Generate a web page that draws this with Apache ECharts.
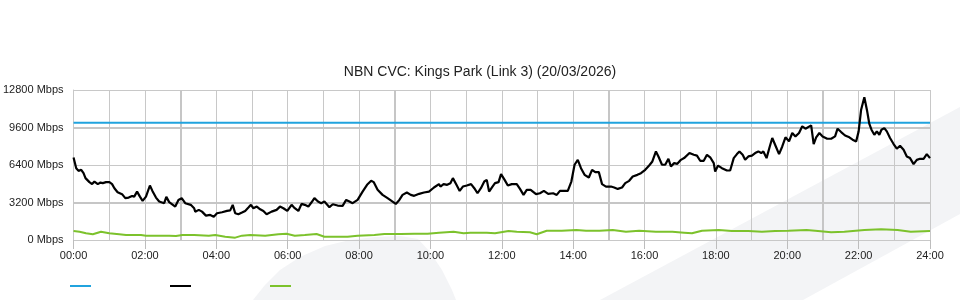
<!DOCTYPE html>
<html>
<head>
<meta charset="utf-8">
<script src="https://cdn.jsdelivr.net/npm/echarts@6/dist/echarts.min.js"></script>
<style>html,body{margin:0;padding:0;background:#fff}#c{width:960px;height:300px}</style>
</head>
<body>
<div id="c"></div>
<script>
const titleText = 'NBN CVC: Kings Park (Link 3) (20/03/2026)';
const yTicks = [0, 3200, 6400, 9600, 12800];
const xTickHours = [0, 2, 4, 6, 8, 10, 12, 14, 16, 18, 20, 22, 24];
const capacityT = [0, 24];
const capacityV = [10000, 10000];
const trafficT = [0.00,0.075,0.14,0.215,0.28,0.335,0.445,0.52,0.585,0.68,0.755,0.82,0.91,1.005,1.08,1.145,1.235,1.36,1.45,1.545,1.64,1.70,1.78,1.86,1.935,2.03,2.14,2.21,2.31,2.40,2.54,2.60,2.68,2.85,2.94,3.03,3.13,3.285,3.38,3.41,3.51,3.60,3.71,3.83,3.93,4.02,4.16,4.30,4.39,4.46,4.53,4.62,4.72,4.81,4.90,4.97,5.04,5.135,5.23,5.32,5.41,5.55,5.69,5.785,5.88,5.99,6.11,6.18,6.30,6.39,6.48,6.58,6.67,6.75,6.85,6.94,7.03,7.17,7.265,7.40,7.54,7.64,7.73,7.82,7.96,8.10,8.225,8.34,8.41,8.52,8.66,8.80,8.94,9.03,9.13,9.22,9.34,9.45,9.545,9.685,9.82,9.96,10.10,10.24,10.28,10.37,10.47,10.56,10.63,10.73,10.82,10.91,11.02,11.14,11.23,11.32,11.415,11.51,11.58,11.645,11.74,11.81,11.91,11.98,12.08,12.17,12.28,12.42,12.51,12.61,12.70,12.81,12.96,13.07,13.18,13.30,13.44,13.54,13.63,13.73,13.85,13.95,14.04,14.13,14.22,14.32,14.44,14.53,14.62,14.72,14.81,14.92,15.06,15.15,15.25,15.37,15.46,15.57,15.67,15.80,15.90,16.02,16.13,16.22,16.32,16.39,16.49,16.58,16.67,16.74,16.83,16.92,17.02,17.11,17.16,17.26,17.38,17.47,17.56,17.66,17.75,17.84,17.94,17.98,18.06,18.17,18.31,18.40,18.50,18.59,18.66,18.75,18.82,18.91,19.01,19.10,19.19,19.27,19.33,19.42,19.51,19.58,19.68,19.77,19.86,19.95,20.05,20.14,20.23,20.33,20.42,20.51,20.67,20.74,20.81,20.90,20.99,21.12,21.23,21.34,21.41,21.51,21.62,21.74,21.83,21.93,22.00,22.07,22.16,22.24,22.30,22.36,22.44,22.51,22.58,22.64,22.72,22.79,22.88,22.98,23.07,23.16,23.26,23.35,23.44,23.54,23.63,23.72,23.82,23.91,24.00];
const trafficV = [7040,6130,5900,5990,5700,5280,4940,4770,4990,4770,4900,4850,4940,4940,4770,4420,4080,3910,3570,3620,3760,3700,4130,3700,3340,3700,4650,4190,3620,3280,3140,3680,3230,2850,3420,3570,3140,3000,2710,2420,2570,2420,2080,2140,1990,2280,2370,2480,2530,3000,2280,2200,2340,2480,2770,3000,2710,2850,2620,2480,2200,2420,2570,2850,2710,2480,3000,2770,2480,3080,3000,2850,3220,3570,3280,3140,3280,2800,3050,2940,2910,3420,3280,3140,3420,4130,4710,5050,4940,4280,3850,3570,3280,3080,3420,3850,4050,3850,3770,3940,4050,4130,4480,4770,4560,4770,4710,4850,5280,4710,4190,4560,4650,4770,4420,3990,4420,4990,5130,4130,4560,4850,4940,5620,5130,4650,4770,4770,4360,3850,4280,4280,3910,3990,4190,3940,3990,3850,4190,4190,4190,4990,6420,6840,6130,5560,5330,5990,5790,5790,4770,4560,4560,4480,4360,4480,4850,5050,5420,5560,5700,5990,6360,6700,7560,7130,6420,6420,6930,6270,6560,6500,6840,6990,7130,7420,7270,7200,6760,6760,7270,7060,6560,5840,6350,6130,5930,5930,6990,7330,7560,7270,6840,7130,7200,7420,7560,7420,7560,6990,7980,8700,7980,7330,7980,8760,8420,9130,8840,9130,9700,9500,9780,8190,8760,9130,8840,8640,8640,8840,9500,9210,8920,8760,8560,8410,9270,11120,12180,10980,9900,9410,8980,9270,8980,9410,9550,9270,8700,8190,7790,8040,7700,7130,6990,6480,6840,6930,6930,7330,6990];
const otherT = [0,0.17,0.35,0.54,0.77,1.0,1.28,1.47,1.89,2.03,2.31,2.68,2.87,3.05,3.38,3.79,3.97,4.25,4.53,4.72,4.95,5.37,5.74,5.97,6.20,6.48,6.81,7.03,7.68,7.96,8.43,8.71,9.17,9.55,9.92,10.24,10.65,10.93,11.12,11.58,11.81,12.19,12.42,12.79,12.98,13.26,13.68,14.09,14.36,14.74,15.11,15.48,15.85,16.32,16.78,17.11,17.33,17.61,18.08,18.45,18.91,19.29,19.66,20.03,20.54,20.86,21.23,21.60,22.16,22.63,23.09,23.46,24.0];
const otherV = [770,710,570,490,710,570,490,430,430,370,370,370,340,430,430,370,430,280,200,370,430,370,490,540,370,430,510,280,280,370,430,510,510,540,540,625,710,570,625,625,570,770,710,660,490,795,795,855,795,795,855,710,795,710,710,625,570,795,855,770,770,710,770,795,855,770,660,710,855,915,855,710,770];
const heavyGridY = [3200, 9600];
const heavyGridX = [3, 9, 15, 21];

const pairs = (t, v) => t.map((x, i) => [x, v[i]]);
const pad = n => (n < 10 ? '0' : '') + n;
const FONT = 'Liberation Sans';

const chart = echarts.init(document.getElementById('c'), null, {renderer: 'canvas'});
chart.setOption({
  animation: false,
  backgroundColor: '#ffffff',
  textStyle: {fontFamily: FONT},
  title: {
    text: titleText, left: 'center', top: 60,
    textStyle: {fontFamily: FONT, fontSize: 14, fontWeight: 'normal', color: '#222'}
  },
  graphic: [
    {type: 'polygon', z: -10, silent: true,
     shape: {points: [[600, 300], [960, 107], [960, 214], [803, 300]]},
     style: {fill: '#f3f4f6'}},
    {type: 'polygon', z: -10, silent: true,
     shape: {points: [[253,300],[265,285],[280,270],[300,257],[325,246],[350,240],[375,237],[400,236],[418,239],[430,252],[442,270],[452,290],[456,300]]},
     style: {fill: '#f3f4f6'}}
  ],
  legend: {
    left: 65, top: 280, itemWidth: 21, itemHeight: 2, itemGap: 79, icon: 'rect',
    formatter: () => '', selectedMode: false,
    data: ['Capacity', 'Traffic', 'Other']
  },
  grid: {left: 70, right: 30, top: 90, bottom: 60, containLabel: false},
  xAxis: {
    type: 'value', min: 0, max: 24, interval: 2,
    axisLine: {show: true, lineStyle: {color: '#c8c8c8', width: 1}},
    axisTick: {show: true, length: 9, lineStyle: {color: '#bdbdbd'}},
    axisLabel: {fontFamily: FONT, fontSize: 11, color: '#222', margin: 10,
      formatter: v => xTickHours.includes(v) ? pad(v) + ':00' : ''},
    splitLine: {show: true, lineStyle: {color: '#c8c8c8', width: 1}},
    minorTick: {show: false, splitNumber: 2},
    minorSplitLine: {show: true, lineStyle: {color: '#c8c8c8', width: 1}}
  },
  yAxis: {
    type: 'value', min: 0, max: 12800, interval: 3200,
    axisLine: {show: true, lineStyle: {color: '#c8c8c8'}},
    axisTick: {show: false},
    axisLabel: {fontFamily: FONT, fontSize: 11, color: '#222', margin: 10,
      formatter: v => yTicks.includes(v) ? v + ' Mbps' : ''},
    splitLine: {show: true, lineStyle: {color: '#c8c8c8', width: 1}}
  },
  series: [
    {name: 'Capacity', type: 'line', data: pairs(capacityT, capacityV), showSymbol: false,
     lineStyle: {color: '#21a3de', width: 2}, itemStyle: {color: '#21a3de'}, z: 3,
     markLine: {silent: true, symbol: 'none', label: {show: false}, z: 1,
       lineStyle: {color: '#c6c6c6', width: 2, type: 'solid'},
       data: heavyGridY.map(v => ({yAxis: v})).concat(heavyGridX.map(v => ({xAxis: v})))}},
    {name: 'Traffic', type: 'line', data: pairs(trafficT, trafficV), showSymbol: false,
     lineStyle: {color: '#000000', width: 2.2}, itemStyle: {color: '#000000'}, z: 4},
    {name: 'Other', type: 'line', data: pairs(otherT, otherV), showSymbol: false,
     lineStyle: {color: '#7cc22c', width: 2}, itemStyle: {color: '#7cc22c'}, z: 3}
  ]
});
</script>
</body>
</html>
